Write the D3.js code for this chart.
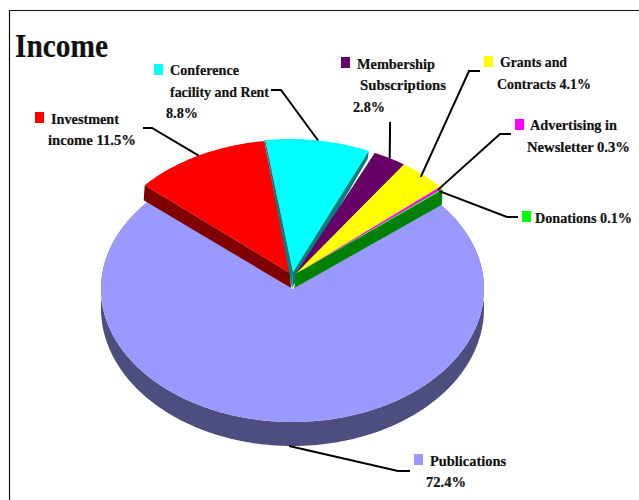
<!DOCTYPE html>
<html>
<head>
<meta charset="utf-8">
<title>Income</title>
<script src="https://cdn.jsdelivr.net/npm/d3@7/dist/d3.min.js"></script>
<style>
  html, body { margin: 0; padding: 0; background: #fff; }
  svg { display: block; }
  text { font-family: "Liberation Serif", serif; font-weight: bold; fill: #111; stroke: #111; stroke-width: 0.2px; }
</style>
</head>
<body>
<script>
// Income shares, in percent, clockwise from the right-hand edge of Publications.
const categories = ["Publications", "Investment income", "Conference facility and Rent",
  "Membership Subscriptions", "Grants and Contracts", "Advertising in Newsletter", "Donations"];
const values = [72.4, 11.5, 8.8, 2.8, 4.1, 0.3, 0.1];
const topColors = ["#9999ff", "#ff0000", "#00ffff", "#660066", "#ffff00", "#ff00ff", "#00ff00"];
const sideColors = ["#4d4d80", "#800000", "#008080", "#330033", "#808000", "#800080", "#008000"];
const labelLines = [
  ["Publications", "72.4%"],
  ["Investment", "income 11.5%"],
  ["Conference", "facility and Rent", "8.8%"],
  ["Membership", "Subscriptions", "2.8%"],
  ["Grants and", "Contracts 4.1%"],
  ["Advertising in", "Newsletter 0.3%"],
  ["Donations 0.1%"]
];

const width = 639, height = 500;
const svg = d3.select("body").append("svg").attr("width", width).attr("height", height);

// Outer frame, open towards the right and bottom of the page.
svg.append("path").attr("d", `M9.5,${height}V10.5H${width}`)
  .attr("fill", "none").attr("stroke", "#111").attr("stroke-width", 1.2);

// Tilted pie: the unit circle is projected to an ellipse on the page.
const px = d3.scaleLinear().domain([-1, 1]).range([101, 484]);
const py = d3.scaleLinear().domain([-1, 1]).range([156, 422]);
const floorY = d3.scaleLinear().domain([-1, 1]).range([171, 446]);
const cx = px(0), cy = py(0);
const start = 50.7 * Math.PI / 180;
const pie = d3.pie().sort(null).startAngle(start).endAngle(start + 2 * Math.PI);
const arcs = pie(values);

const rimX = a => px(Math.sin(a));
const rimY = a => py(-Math.cos(a));
const floorRimY = a => floorY(-Math.cos(a));
const outline = d3.line();

function sweep(a0, a1) {
  const n = Math.max(2, Math.ceil(Math.abs(a1 - a0) / 0.01));
  return d3.range(n + 1).map(i => a0 + (a1 - a0) * i / n);
}

// Pulled-out slices: shift of the rim, shift of the tip, and the side walls each shows.
const rimShift = [
  [0, 0],
  [-4, -16],
  [-3, -17],
  [3, -15],
  [3, -15],
  [2, -15],
  [2, -15]
];
const tipShift = [
  [0, 0],
  [-2.5, -16],
  [0.5, -17],
  [3, -15],
  [3, -15],
  [3, -15],
  [3, -15]
];
const walls = [
  null,
  [{ angle: d => d.startAngle, outerDrop: 15, innerDrop: 15, lean: 1 }],
  [{ angle: d => d.endAngle, outerDrop: 8, innerDrop: 16, lean: -1 },
   { angle: d => d.startAngle, outerDrop: 0, innerDrop: 16, lean: -1 }],
  [{ angle: d => d.endAngle, outerDrop: 1, innerDrop: 1, lean: -1 }],
  null,
  null,
  [{ angle: d => d.endAngle, outerDrop: 15, innerDrop: 14, lean: -1 }]
];

const chart = svg.append("g");

// Publications: outer wall first, then the top face over it.
const pub = arcs[0];
const pubAngles = sweep(pub.startAngle, pub.endAngle);
chart.append("path")
  .attr("d", outline(pubAngles.map(a => [rimX(a), rimY(a)])
    .concat(pubAngles.slice().reverse().map(a => [rimX(a), floorRimY(a)]))) + "Z")
  .attr("fill", sideColors[0]);
chart.append("path")
  .attr("d", outline([[cx, cy]].concat(pubAngles.map(a => [rimX(a), rimY(a)]))) + "Z")
  .attr("fill", topColors[0]);

// Pulled-out slices, each with its visible side walls.
arcs.forEach((d, i) => {
  if (i === 0) return;
  const [dx, dy] = rimShift[i];
  const apex = [cx + tipShift[i][0], cy + tipShift[i][1]];
  chart.append("path")
    .attr("d", outline([apex].concat(sweep(d.startAngle, d.endAngle)
      .map(a => [rimX(a) + dx, rimY(a) + dy]))) + "Z")
    .attr("fill", topColors[i]);
  (walls[i] || []).forEach(w => {
    const a = w.angle(d);
    const ox = rimX(a) + dx, oy = rimY(a) + dy;
    chart.append("path")
      .attr("d", outline([[ox, oy], apex, [apex[0] + w.lean, apex[1] + w.innerDrop], [ox - 1, oy + w.outerDrop]]) + "Z")
      .attr("fill", sideColors[i]);
  });
});

// Leader lines run from the middle of a slice's rim to an elbow beside its label.
const leaderElbows = [
  [[398, 471], [410, 471]],
  [[152, 128], [143, 128]],
  [[281, 90], [271, 90]],
  [[390, 134], [390, 122]],
  [[469, 71], [480, 71]],
  [[500, 134], [511, 134]],
  [[507, 217], [518, 217]]
];
const leaderInset = [1, 1, 1, 1, 0.98, 0.98, 0.98];
arcs.forEach((d, i) => {
  const mid = (d.startAngle + d.endAngle) / 2;
  const [dx, dy] = rimShift[i];
  const k = leaderInset[i];
  const anchor = i === 0
    ? [rimX(mid), floorRimY(mid)]
    : [px(Math.sin(mid) * k) + dx, py(-Math.cos(mid) * k) + dy];
  svg.append("path")
    .attr("d", outline([anchor].concat(leaderElbows[i])))
    .attr("fill", "none").attr("stroke", "#000").attr("stroke-width", 2);
});

// Title.
svg.append("text").attr("x", 15).attr("y", 57)
  .attr("font-size", 33)
  .attr("textLength", 93).attr("lengthAdjust", "spacingAndGlyphs")
  .text("Income");

// Legend-style labels: swatch position, then [x, baseline, width] for each text line.
const swatches = [[414, 454], [35, 112], [154, 64], [341, 57], [484, 56], [515, 119], [522, 211]];
const linePlacement = [
  [[430, 466, 76], [426, 487, 40]],
  [[51, 124, 68], [48, 145, 88]],
  [[170, 75, 69], [170, 97, 99], [166, 118, 32]],
  [[357, 69, 78], [360, 90, 86], [353, 112, 32]],
  [[500, 67, 67], [497, 89, 94]],
  [[530, 130, 87], [527, 152, 103]],
  [[535, 223, 97]]
];

categories.forEach((name, i) => {
  const g = svg.append("g").attr("class", "label").attr("data-category", name);
  g.append("rect")
    .attr("x", swatches[i][0]).attr("y", swatches[i][1])
    .attr("width", 9).attr("height", 11)
    .attr("fill", topColors[i]);
  labelLines[i].forEach((line, j) => {
    const [x, y, w] = linePlacement[i][j];
    g.append("text").attr("x", x).attr("y", y)
      .attr("font-size", 15)
      .attr("textLength", w).attr("lengthAdjust", "spacingAndGlyphs")
      .text(line);
  });
});
</script>
</body>
</html>
